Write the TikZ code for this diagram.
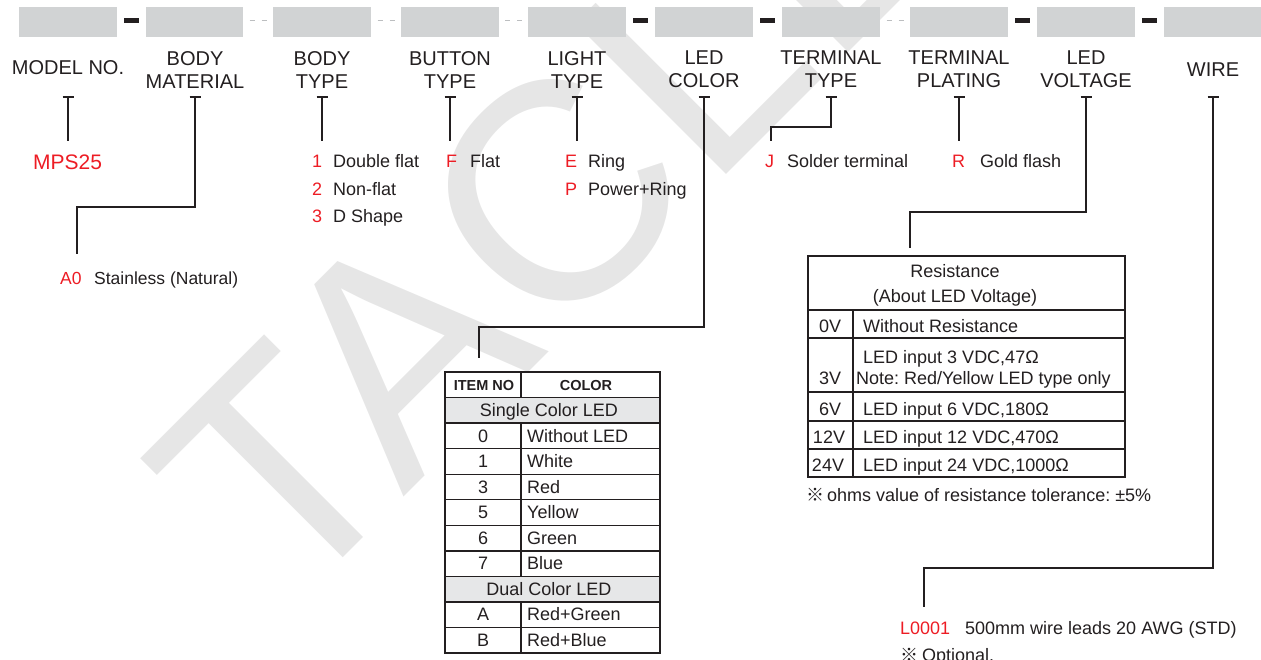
\documentclass[tikz,border=0pt]{standalone}
\usepackage{fontspec}
\setmainfont{Liberation Sans}
\newfontfamily\cjk{Noto Sans CJK SC}
\definecolor{txt}{HTML}{231F20}
\definecolor{codered}{HTML}{ED1C24}
\definecolor{boxgray}{HTML}{D1D3D4}
\definecolor{rowgray}{HTML}{E6E7E8}
\definecolor{dashgray}{HTML}{BCBEC0}
\definecolor{wmark}{HTML}{E6E6E6}
\frenchspacing
\begin{document}
\begin{tikzpicture}[x=1pt,y=-1pt,
  gbox/.style={fill=boxgray,draw=none,inner sep=0pt,minimum height=30,anchor=north west},
  bdash/.style={fill=txt,draw=none,inner sep=0pt,minimum width=15,minimum height=4.5},
  gdash/.style={draw=dashgray,line width=1pt,dash pattern=on 5pt off 7pt},
  lbl/.style={font=\fontsize{20}{23}\selectfont,text=txt,align=center,inner sep=0pt,anchor=north},
  lblone/.style={font=\fontsize{20}{23}\selectfont,text=txt,inner sep=0pt,anchor=base},
  conn/.style={draw=txt,line width=1.8pt},
  code/.style={font=\fontsize{18}{22}\selectfont,text=codered,inner sep=0pt,anchor=base west},
  desc/.style={font=\fontsize{18}{22}\selectfont,text=txt,inner sep=0pt,anchor=base west},
  cell/.style={font=\fontsize{18}{22}\selectfont,text=txt,inner sep=0pt,anchor=base},
  cellw/.style={cell,anchor=base west},
  head/.style={font=\bfseries\fontsize{14.5}{17}\selectfont,text=txt,inner sep=0pt,anchor=base},
  tframe/.style={draw=txt,line width=1.8pt},
  tline/.style={draw=txt,line width=1.3pt},
]
\useasboundingbox (0,0) rectangle (1261,660);

% watermark
\node[font=\fontsize{310}{310}\selectfont,text=wmark,inner sep=0pt,anchor=base west,rotate=45] (wm) at (286,615) {TACLE};

% code boxes
\foreach \i/\x/\w in {1/19/98,2/146/97,3/273/98,4/401/98,5/528/98,6/655/98,7/782/98,8/910/98,9/1037/98,10/1164/97}
  \node[gbox,minimum width=\w] (box\i) at (\x,7) {};

% separators
\foreach \i/\x in {1/131.5,5/640.5,6/767.5,8/1022.5,9/1149.5}
  \node[bdash] (sep\i) at (\x,20.5) {};
\foreach \x in {258,386,513.5,895}
  \draw[gdash] (\x-8.5,21) -- (\x+8.5,21);

% labels
\node[lblone] (l1) at (68,75) {MODEL NO.};
\node[lbl] (l2) at (195,51) {BODY\\MATERIAL};
\node[lbl] (l3) at (322,51) {BODY\\TYPE};
\node[lbl] (l4) at (450,51) {BUTTON\\TYPE};
\node[lbl] (l5) at (577,51) {LIGHT\\TYPE};
\node[lbl] (l6) at (704,51) {LED\\COLOR};
\node[lbl] (l7) at (831,51) {TERMINAL\\TYPE};
\node[lbl] (l8) at (959,51) {TERMINAL\\PLATING};
\node[lbl] (l9) at (1086,51) {LED\\VOLTAGE};
\node[lblone] (l10) at (1213,77) {WIRE};

% T marks
\foreach \i/\x in {1/68,2/195,3/322,4/450,5/577,6/704,7/831,8/959,9/1086,10/1213}{
  \coordinate (t\i) at (\x,97);
  \draw[conn] ([xshift=-5.5pt]t\i) -- ([xshift=5.5pt]t\i);
}
\coordinate (e1) at (68,141);
\coordinate (e2) at (77,254);
\coordinate (e3) at (322,141);
\coordinate (e4) at (450,141);
\coordinate (e5) at (577,141);
\coordinate (e6) at (479,358);
\coordinate (e7) at (771,141);
\coordinate (e8) at (959,141);
\coordinate (e9) at (910,248);
\coordinate (e10) at (924,607);

\draw[conn] (t1) -- (e1);
\draw[conn] (t2) -- ++(0,110) -| (e2);
\draw[conn] (t3) -- (e3);
\draw[conn] (t4) -- (e4);
\draw[conn] (t5) -- (e5);
\draw[conn] (t6) -- ++(0,230) -| (e6);
\draw[conn] (t7) -- ++(0,30) -| (e7);
\draw[conn] (t8) -- (e8);
\draw[conn] (t9) -- ++(0,115) -| (e9);
\draw[conn] (t10) -- ++(0,471) -| (e10);

% options
\node[code,font=\fontsize{21}{24}\selectfont] (mps) at (33,170) {MPS25};
\node[code,font=\fontsize{17.5}{21}\selectfont] (a0) at (60,285) {A0};
\node[desc,font=\fontsize{17.5}{21}\selectfont] (a0d) at (94,285) {Stainless (Natural)};

\node[code] (bt1) at (312,168) {1};
\node[desc] (bt1d) at (333,168) {Double flat};
\node[code] (bt2) at (312,195.5) {2};
\node[desc] (bt2d) at (333,195.5) {Non-flat};
\node[code] (bt3) at (312,223) {3};
\node[desc] (bt3d) at (333,223) {D Shape};

\node[code] (bf) at (446,168) {F};
\node[desc] (bfd) at (470,168) {Flat};

\node[code] (le) at (565,168) {E};
\node[desc] (led) at (588,168) {Ring};
\node[code] (lp) at (565,195.5) {P};
\node[desc] (lpd) at (588,195.5) {Power+Ring};

\node[code] (tj) at (765,168) {J};
\node[desc] (tjd) at (787,168) {Solder terminal};

\node[code] (pr) at (952,168) {R};
\node[desc] (prd) at (980,168) {Gold flash};

% LED colour table
\fill[rowgray] (445,397.55) rectangle (660,423.1);
\fill[rowgray] (445,576.4) rectangle (660,601.95);
\foreach \k in {1,...,10}
  \draw[tline] (445,372+\k*25.55) -- (660,372+\k*25.55);
\draw[tline] (521,372) -- (521,397.55);
\draw[tline] (521,423.1) -- (521,576.4);
\draw[tline] (521,601.95) -- (521,653);
\draw[tframe] (445,372) rectangle (660,653);

\node[head] (hitem) at (484,390) {ITEM NO};
\node[head] (hcol) at (586,390) {COLOR};
\node[cell] (single) at (549,416.55) {Single Color LED};
\node[cell] (dual) at (549,595.4) {Dual Color LED};
\foreach \r/\a/\b in {2/0/Without LED,3/1/White,4/3/Red,5/5/Yellow,6/6/Green,7/7/Blue,9/A/Red+Green,10/B/Red+Blue}{
  \pgfmathsetmacro\yy{372+25.55*\r+19}
  \node[cell] (ci\r) at (483,\yy) {\a};
  \node[cellw] (cc\r) at (527,\yy) {\b};
}

% resistance table
\foreach \yy in {310,338,392,421,449}
  \draw[tline] (808,\yy) -- (1125,\yy);
\draw[tline] (853,310) -- (853,477);
\draw[tframe] (808,256) rectangle (1125,477);

\node[cell] (rt1) at (955,278) {Resistance};
\node[cell] (rt2) at (955,302) {(About LED Voltage)};
\node[cell] (v0) at (830,332) {0V};
\node[cellw] (v0d) at (863,332) {Without Resistance};
\node[cellw] (v3a) at (863,363) {LED input 3 VDC,47Ω};
\node[cellw] (v3b) at (856,384) {Note: Red/Yellow LED type only};
\node[cell] (v3) at (830,384) {3V};
\node[cell] (v6) at (830,415) {6V};
\node[cellw] (v6d) at (863,415) {LED input 6 VDC,180Ω};
\node[cell] (v12) at (829,443) {12V};
\node[cellw] (v12d) at (863,443) {LED input 12 VDC,470Ω};
\node[cell] (v24) at (828,471) {24V};
\node[cellw] (v24d) at (863,471) {LED input 24 VDC,1000Ω};
\node[desc] (tol) at (806,501) {{\cjk ※}\hspace{3pt}ohms value of resistance tolerance: ±5\%};

% wire
\node[code] (wl) at (900,634) {L0001};
\node[desc] (wld) at (965,634) {500mm wire leads 20 AWG (STD)};
\node[desc] (opt) at (900,661) {{\cjk ※}\hspace{4pt}Optional.};
\end{tikzpicture}
\end{document}
